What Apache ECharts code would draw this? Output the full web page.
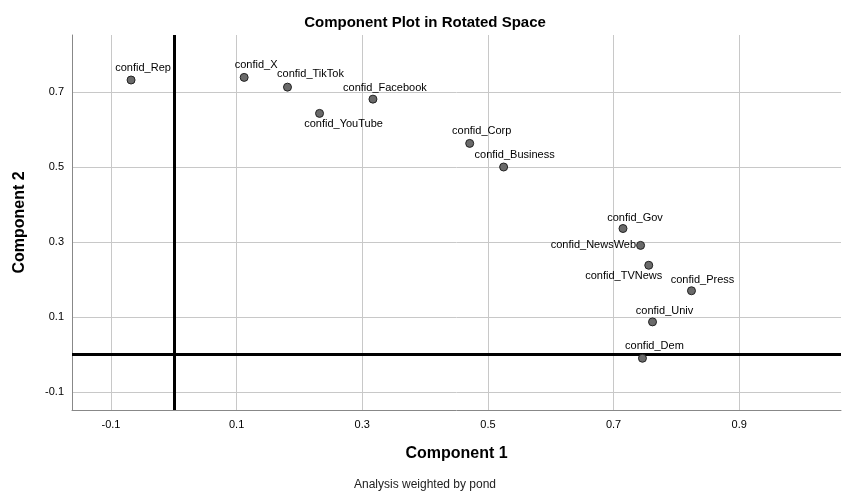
<!DOCTYPE html>
<html>
<head>
<meta charset="utf-8">
<script src="https://cdn.jsdelivr.net/npm/echarts@6/dist/echarts.min.js"></script>
<style>
    html, body { margin: 0; padding: 0; background: #fff; }
    #chart { width: 850px; height: 500px; }
</style>
</head>
<body>
<div id="chart"></div>
<script>
// Loadings per variable | component 1 and component 2
const names = ['confid_Rep', 'confid_X', 'confid_TikTok', 'confid_Facebook', 'confid_YouTube',
    'confid_Corp', 'confid_Business', 'confid_Gov', 'confid_NewsWeb', 'confid_TVNews',
    'confid_Press', 'confid_Univ', 'confid_Dem'];
const comp1 = [-0.068, 0.112, 0.181, 0.317, 0.232, 0.471, 0.525, 0.715, 0.743, 0.756, 0.824, 0.762, 0.746];
const comp2 = [0.732, 0.739, 0.713, 0.681, 0.643, 0.563, 0.500, 0.336, 0.291, 0.238, 0.170, 0.087, -0.010];

// Tick labels
const xTicks = [-0.1, 0.1, 0.3, 0.5, 0.7, 0.9];
const yTicks = [-0.1, 0.1, 0.3, 0.5, 0.7];

// Label placement (style only)
const labelOffsets = {
    confid_Rep: [12, -12], confid_X: [12, -12], confid_TikTok: [23, -13],
    confid_Facebook: [12, -11], confid_YouTube: [24, 11], confid_Corp: [12, -12],
    confid_Business: [11, -12], confid_Gov: [12, -11], confid_TVNews: [-25, 11],
    confid_Press: [11, -11], confid_Univ: [12, -11], confid_Dem: [12, -12]
};

const chart = echarts.init(document.getElementById('chart'));

const points = names.map((n, i) => {
    const item = { name: n, value: [comp1[i], comp2[i]] };
    if (n === 'confid_NewsWeb') {
        item.label = { position: 'left', distance: 0 };
    } else {
        item.label = { position: 'inside', offset: labelOffsets[n] };
    }
    return item;
});

const fontFamily = 'Arial, "Liberation Sans", sans-serif';

const option = {
    animation: false,
    textStyle: { fontFamily: fontFamily },
    title: [
        {
            text: 'Component Plot in Rotated Space',
            left: 'center',
            top: 10,
            textStyle: { fontSize: 15, fontWeight: 'bold', color: '#000', fontFamily: fontFamily }
        },
        {
            text: 'Analysis weighted by pond',
            left: 'center',
            top: 474,
            textStyle: { fontSize: 12, fontWeight: 'normal', color: '#222', fontFamily: fontFamily }
        }
    ],
    grid: { left: 72, right: 9, top: 35, bottom: 90 },
    xAxis: {
        type: 'value',
        min: -0.162,
        max: 1.062,
        name: 'Component 1',
        nameLocation: 'middle',
        nameGap: 36,
        nameTextStyle: { fontSize: 16, fontWeight: 'bold', color: '#000' },
        axisLine: { show: true, onZero: false, lineStyle: { color: '#888', width: 1 } },
        axisTick: { show: false, customValues: xTicks },
        axisLabel: {
            customValues: xTicks,
            color: '#000',
            fontSize: 11,
            margin: 9,
            formatter: v => String(Math.round(v * 10) / 10)
        },
        splitLine: { show: true, lineStyle: { color: '#c8c8c8', width: 1 } }
    },
    yAxis: {
        type: 'value',
        min: -0.148,
        max: 0.852,
        name: 'Component 2',
        nameLocation: 'middle',
        nameGap: 44,
        nameTextStyle: { fontSize: 16, fontWeight: 'bold', color: '#000' },
        axisLine: { show: true, onZero: false, lineStyle: { color: '#888', width: 1 } },
        axisTick: { show: false, customValues: yTicks },
        axisLabel: {
            customValues: yTicks,
            color: '#000',
            fontSize: 11,
            margin: 8,
            formatter: v => String(Math.round(v * 10) / 10)
        },
        splitLine: { show: true, lineStyle: { color: '#c8c8c8', width: 1 } }
    },
    series: [
        {
            type: 'scatter',
            symbolSize: 8,
            itemStyle: { color: '#6a6a6a', borderColor: '#222', borderWidth: 1, opacity: 1 },
            label: {
                show: true,
                formatter: p => p.name,
                color: '#000',
                fontSize: 11
            },
            data: points,
            markLine: {
                silent: true,
                symbol: 'none',
                label: { show: false },
                lineStyle: { color: '#000', width: 3, type: 'solid', opacity: 1 },
                data: [{ xAxis: 0 }, { yAxis: 0 }]
            },
            z: 5
        }
    ]
};

chart.setOption(option);
</script>
</body>
</html>
